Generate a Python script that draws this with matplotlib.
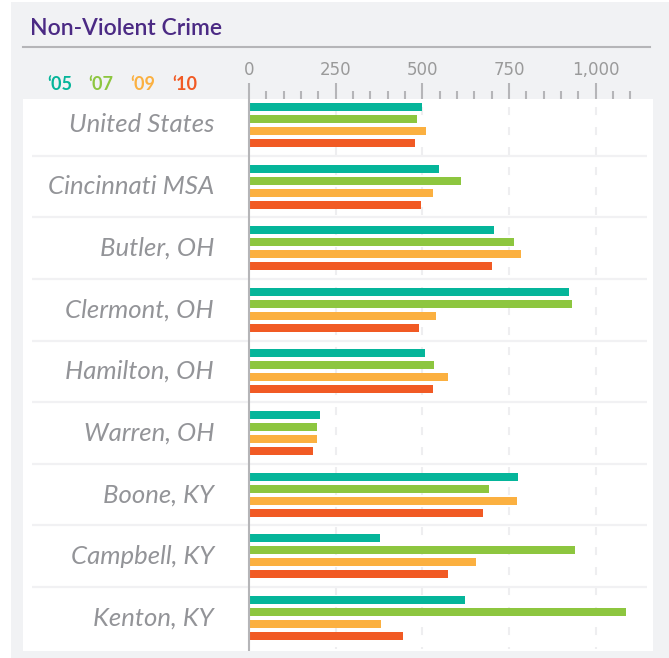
import matplotlib
matplotlib.use('Agg')
import matplotlib.pyplot as plt
from matplotlib.patches import Rectangle
from matplotlib.lines import Line2D

# data
places = ['United States', 'Cincinnati MSA', 'Butler, OH', 'Clermont, OH', 'Hamilton, OH',
          'Warren, OH', 'Boone, KY', 'Campbell, KY', 'Kenton, KY']
years = ['\u201805', '\u201807', '\u201809', '\u201810']
v05 = [498, 547, 706, 922, 507, 204, 775, 377, 622]
v07 = [484, 611, 763, 930, 533, 196, 691, 939, 1086]
v09 = [510, 530, 783, 539, 573, 196, 772, 654, 380]
v10 = [478, 495, 700, 490, 530, 184, 674, 573, 444]
series = [v05, v07, v09, v10]
colors = ['#05b59a', '#8dc63f', '#fbb040', '#f15a24']

major = [0, 250, 500, 750, 1000]
major_labels = ['0', '250', '500', '750', '1,000']
minor = [m for m in range(50, 1101, 50) if m not in major]

W, H = 669, 658
fig = plt.figure(figsize=(W / 100, H / 100), dpi=100, facecolor='white')

# grey card behind everything
fig.patches.append(Rectangle((11 / W, 0), 1, 1 - 2 / H, transform=fig.transFigure,
                             facecolor='#f1f2f4', edgecolor='none', zorder=-5))

# white panel = axes
ax = fig.add_axes([23 / W, 7 / H, 630 / W, 552 / H])
ax.set_facecolor('white')
px = 250 / 86.7          # data units per pixel
ax.set_xlim((23 - 249) * px, (653 - 249) * px)
ax.set_ylim(8.539, -0.422)
for s in ax.spines.values():
    s.set_visible(False)

# dashed grid
plt.rcParams['lines.scale_dashes'] = False
ax.vlines([250, 500, 750, 1000], -0.3, 8.5, colors='#eeeef0', lw=1.5,
          linestyles=(0, (5.8, 8.6)), zorder=0)

# group separators
ax.hlines([i + 0.5 for i in range(len(places) - 1)], (32 - 249) * px, (647 - 249) * px,
          colors='#f1f1f3', lw=1.6, zorder=0)

offsets = [-0.292, -0.097, 0.097, 0.292]
for vals, off, c in zip(series, offsets, colors):
    ax.barh([i + off for i in range(len(places))], vals, height=0.13, color=c,
            left=0, zorder=2)

ax.axvline(0, color='#b5b5b8', lw=1.5, zorder=3)

for i, p in enumerate(places):
    ax.text((214 - 249) * px, i, p, ha='right', va='center', fontsize=18.5,
            style='italic', color='#939498', family='Lato')

# ruler on top
ax.xaxis.tick_top()
ax.set_xticks(major)
ax.set_xticklabels(major_labels)
ax.set_xticks(minor, minor=True)
ax.set_yticks([])
ax.tick_params(axis='x', which='major', length=11.5, width=1.5, color='#b5b5b8',
               pad=3, labelsize=12, labelcolor='#9a9a9a')
ax.tick_params(axis='x', which='minor', length=5.8, width=1.5, color='#b5b5b8')
for t in ax.get_xticklabels():
    t.set_family('DejaVu Sans')

# title and rule
fig.text(30 / W, 1 - 35 / H, 'Non-Violent Crime', fontsize=16.5, color='#4b2a84',
         family='Lato', fontweight='semibold', va='baseline', ha='left')
fig.lines.append(Line2D([23 / W, 650 / W], [1 - 47 / H, 1 - 47 / H],
                        transform=fig.transFigure, color='#b5b5b8', lw=1.5))

# year keys
for x, lab, c in zip([47, 88, 130, 172], years, colors):
    fig.text(x / W, 1 - 84 / H, lab, fontsize=13, fontweight='bold', color=c,
             family='Lato', va='center', ha='left')

fig.savefig('out.png', dpi=100, facecolor='white')
